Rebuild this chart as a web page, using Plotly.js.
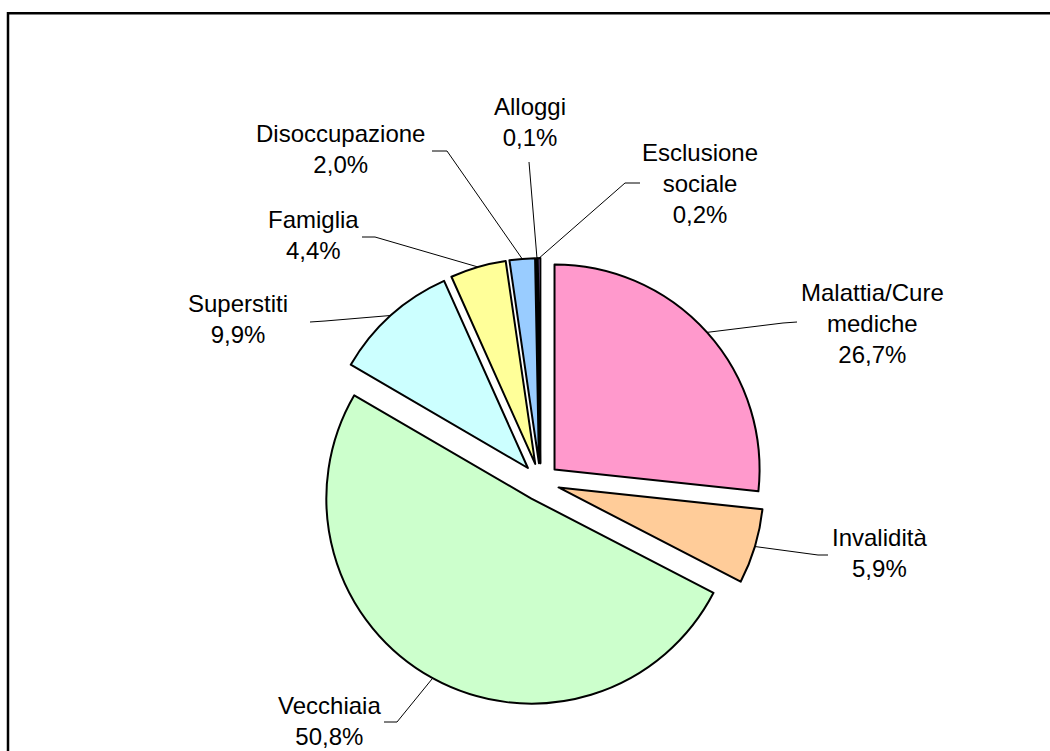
<!DOCTYPE html>
<html>
<head>
<meta charset="utf-8">
<script src="https://cdn.plot.ly/plotly-3.0.1.min.js"></script>
<style>html,body{margin:0;padding:0;background:#fff;}#chart{width:1050px;height:751px;}</style>
</head>
<body>
<div id="chart"></div>
<script>
// ---- data ----
var categories = ["Malattia/Cure mediche", "Invalidità", "Vecchiaia", "Superstiti", "Famiglia", "Disoccupazione", "Alloggi", "Esclusione sociale"];
var labelLines = ["Malattia/Cure<br>mediche", "Invalidità", "Vecchiaia", "Superstiti", "Famiglia", "Disoccupazione", "Alloggi", "Esclusione<br>sociale"];
var shares = [26.7, 5.9, 50.8, 9.9, 4.4, 2.0, 0.1, 0.2];
var colors = ["#FF99CC", "#FFCC99", "#CCFFCC", "#CCFFFF", "#FFFF99", "#99CCFF", "#9999FF", "#CC99FF"];

// ---- style / layout constants ----
var W = 1050, H = 751;
var PULL = 0.092;
var domX = [0.3015, 0.7280];
var domY = [0.0600, 0.6563];
// label block centres (px) and leader-line end points (px, [elbow, end])
var labelPos = [[872, 323], [879, 553], [329, 721], [238, 319], [313, 235], [340, 149], [530, 122], [700, 183]];
var leaderEnd = [
  [[783, 323], [797, 322]],
  [[818, 555], [828, 555]],
  [[397, 722], [384, 722]],
  [[325, 321], [310, 322]],
  [[375, 237], [362, 237]],
  [[447, 151], [432, 151]],
  [[529, 162], [529, 162]],
  [[625, 183], [640, 183]]
];

function fmt(v) { return v.toFixed(1).replace('.', ',') + '%'; }

// geometry replicating plotly's pie scaling
var boxW = W * (domX[1] - domX[0]);
var boxH = H * (domY[1] - domY[0]);
var R = Math.min(boxW, boxH) / (2 + 2 * PULL);
var cx = W * (domX[0] + domX[1]) / 2;
var cy = H * (1 - domY[0]) - boxH / 2;
var total = shares.reduce(function (a, b) { return a + b; }, 0);

var shapes = [];
var annotations = [];
var cum = 0;
for (var i = 0; i < shares.length; i++) {
  var mid = (cum + shares[i] / 2) / total * 2 * Math.PI;
  cum += shares[i];
  var dx = Math.sin(mid), dy = -Math.cos(mid);
  var pcx = cx + PULL * R * dx, pcy = cy + PULL * R * dy;
  var sx = pcx + R * dx, sy = pcy + R * dy;
  var e1 = leaderEnd[i][0], e2 = leaderEnd[i][1];
  var path = 'M' + (sx / W) + ',' + (1 - sy / H) + ' L' + (e1[0] / W) + ',' + (1 - e1[1] / H) + ' L' + (e2[0] / W) + ',' + (1 - e2[1] / H);
  shapes.push({type: 'path', xref: 'paper', yref: 'paper', path: path, line: {color: '#000', width: 1}});
  annotations.push({
    xref: 'paper', yref: 'paper', x: labelPos[i][0] / W, y: 1 - labelPos[i][1] / H,
    xanchor: 'center', yanchor: 'middle', showarrow: false, align: 'center',
    text: labelLines[i] + '<br>' + fmt(shares[i]),
    font: {family: 'Liberation Sans, Arial, sans-serif', size: 24, color: '#000'}
  });
}
// outer frame
shapes.push({type: 'rect', xref: 'paper', yref: 'paper', x0: 8 / W, y0: -0.1, x1: 1.1, y1: 1 - 13.2 / H, line: {color: '#000', width: 2.5}});

var trace = {
  type: 'pie',
  labels: categories,
  values: shares,
  sort: false,
  direction: 'clockwise',
  rotation: 0,
  pull: shares.map(function () { return PULL; }),
  marker: {colors: colors, line: {color: '#000', width: 2}},
  textinfo: 'none',
  hoverinfo: 'none',
  domain: {x: domX, y: domY},
  showlegend: false
};

Plotly.newPlot('chart', [trace], {
  width: W, height: H,
  margin: {l: 0, r: 0, t: 0, b: 0},
  paper_bgcolor: '#fff',
  showlegend: false,
  shapes: shapes,
  annotations: annotations
}, {staticPlot: true});
</script>
</body>
</html>
